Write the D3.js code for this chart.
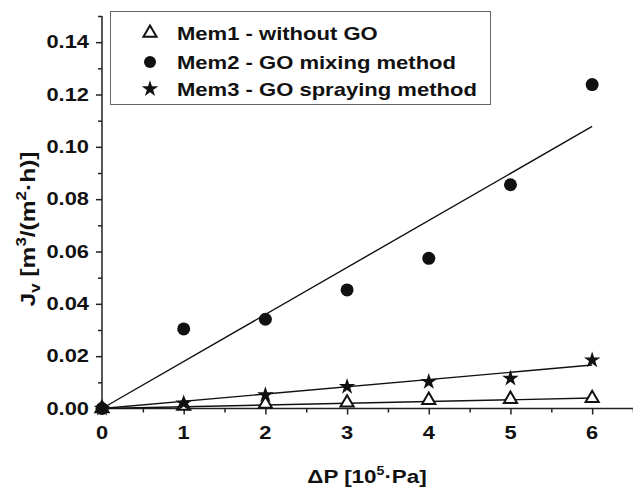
<!DOCTYPE html>
<html><head><meta charset="utf-8">
<script src="https://cdn.jsdelivr.net/npm/d3@7"></script>
<style>body{margin:0;background:#fff}svg{display:block}text{font-family:"Liberation Sans",Arial,sans-serif;font-weight:bold;fill:#111}</style>
</head><body>
<svg id="c" width="633" height="489"></svg>
<script>
const pressures = [0, 1, 2, 3, 4, 5, 6];
const mem1 = [0, 0.0010, 0.0017, 0.0022, 0.0032, 0.0036, 0.0039];
const mem2 = [0, 0.0304, 0.0341, 0.0453, 0.0574, 0.0855, 0.1238];
const mem3 = [0, 0.0020, 0.0052, 0.0083, 0.0102, 0.0115, 0.0185];
const fitEnd = [0.0040, 0.1078, 0.0166];
const seriesNames = ["Mem1 - without GO", "Mem2 - GO mixing method", "Mem3 - GO spraying method"];
const xTicks = [0, 1, 2, 3, 4, 5, 6];
const yTicks = [0, 0.02, 0.04, 0.06, 0.08, 0.10, 0.12, 0.14];

const svg = d3.select("#c");
const x = d3.scaleLinear().domain([0, 6.5]).range([102, 633]);
const y = d3.scaleLinear().domain([0, 0.15]).range([408.5, 16]);
const SX = 1.25;

// axes
const gx = svg.append("g").attr("transform", `translate(0,${y(0)})`);
gx.call(d3.axisBottom(x).tickValues(d3.range(0, 6.51, 0.5)).tickSize(4).tickFormat(""));
gx.call(g => g.selectAll(".tick line").filter(d => Number.isInteger(d)).attr("y2", 6));
gx.selectAll(".tick text").remove();
gx.select(".domain").attr("d", `M${x(0)},0H633`);
xTicks.forEach(t => {
  gx.append("text").attr("transform", `translate(${x(t)},30.5) scale(${SX},1)`)
    .attr("text-anchor", "middle").style("font-size", "17.5px").text(t);
});

const gy = svg.append("g").attr("transform", `translate(${x(0)},0)`);
gy.call(d3.axisLeft(y).tickValues(d3.range(0, 0.1501, 0.01)).tickSize(4).tickFormat(""));
gy.call(g => g.selectAll(".tick line").filter(d => Math.round(d * 100) % 2 === 0).attr("x2", -6));
gy.select(".domain").attr("d", `M0,${y(0)}V${y(0.15)}`);
yTicks.forEach(t => {
  gy.append("text").attr("transform", `translate(-13,${y(t) + 6}) scale(${SX},1)`)
    .attr("text-anchor", "end").style("font-size", "17.5px").text(t.toFixed(2));
});
svg.selectAll(".domain, .tick line").attr("stroke", "#222").attr("stroke-width", 1.5);

// axis titles
const xt = svg.append("text").attr("transform", `translate(367,483) scale(1.18,1)`)
  .attr("text-anchor", "middle").style("font-size", "19px");
xt.append("tspan").text("ΔP [10");
xt.append("tspan").attr("dy", -8).style("font-size", "12px").text("5");
xt.append("tspan").attr("dy", 8).text("·Pa]");

const yt = svg.append("text").attr("transform", `translate(35,229) rotate(-90) scale(1.2,1)`)
  .attr("text-anchor", "middle").style("font-size", "20.5px");
yt.append("tspan").text("J");
yt.append("tspan").attr("dy", 5).style("font-size", "14px").text("v");
yt.append("tspan").attr("dy", -5).text(" [m");
yt.append("tspan").attr("dy", -9).style("font-size", "14px").text("3");
yt.append("tspan").attr("dy", 9).text("/(m");
yt.append("tspan").attr("dy", -9).style("font-size", "14px").text("2");
yt.append("tspan").attr("dy", 9).text("·h)]");

// fit lines
fitEnd.forEach(v => {
  svg.append("line").attr("x1", x(0)).attr("y1", y(0)).attr("x2", x(6)).attr("y2", y(v))
    .attr("stroke", "#111").attr("stroke-width", 1.4);
});

const tri = d3.symbol().type(d3.symbolTriangle).size(75)();
const star = d3.symbol().type(d3.symbolStar).size(85)();

// markers
svg.append("g").selectAll("path").data(pressures).join("path")
  .attr("d", tri).attr("transform", (d, i) => `translate(${x(d)},${y(mem1[i])})`)
  .attr("fill", "#fff").attr("stroke", "#111").attr("stroke-width", 2);
svg.append("g").selectAll("path").data(pressures).join("path")
  .attr("d", star).attr("transform", (d, i) => `translate(${x(d)},${y(mem3[i])})`)
  .attr("fill", "#111");
svg.append("g").selectAll("circle").data(pressures).join("circle")
  .attr("cx", d => x(d)).attr("cy", (d, i) => y(mem2[i])).attr("r", 6.5).attr("fill", "#111");

// legend
const lg = svg.append("g");
lg.append("rect").attr("x", 110.5).attr("y", 11.5).attr("width", 380).attr("height", 93)
  .attr("fill", "#fff").attr("stroke", "#666").attr("stroke-width", 1);
const rows = [33, 62, 89];
lg.append("path").attr("d", tri).attr("transform", `translate(150,${rows[0]})`)
  .attr("fill", "#fff").attr("stroke", "#111").attr("stroke-width", 2);
lg.append("circle").attr("cx", 150).attr("cy", rows[1]).attr("r", 6).attr("fill", "#111");
lg.append("path").attr("d", star).attr("transform", `translate(150,${rows[2]})`).attr("fill", "#111");
seriesNames.forEach((n, i) => {
  lg.append("text").attr("transform", `translate(177,${rows[i] + 7}) scale(1.16,1)`)
    .style("font-size", "19px").text(n);
});
</script>
</body></html>
